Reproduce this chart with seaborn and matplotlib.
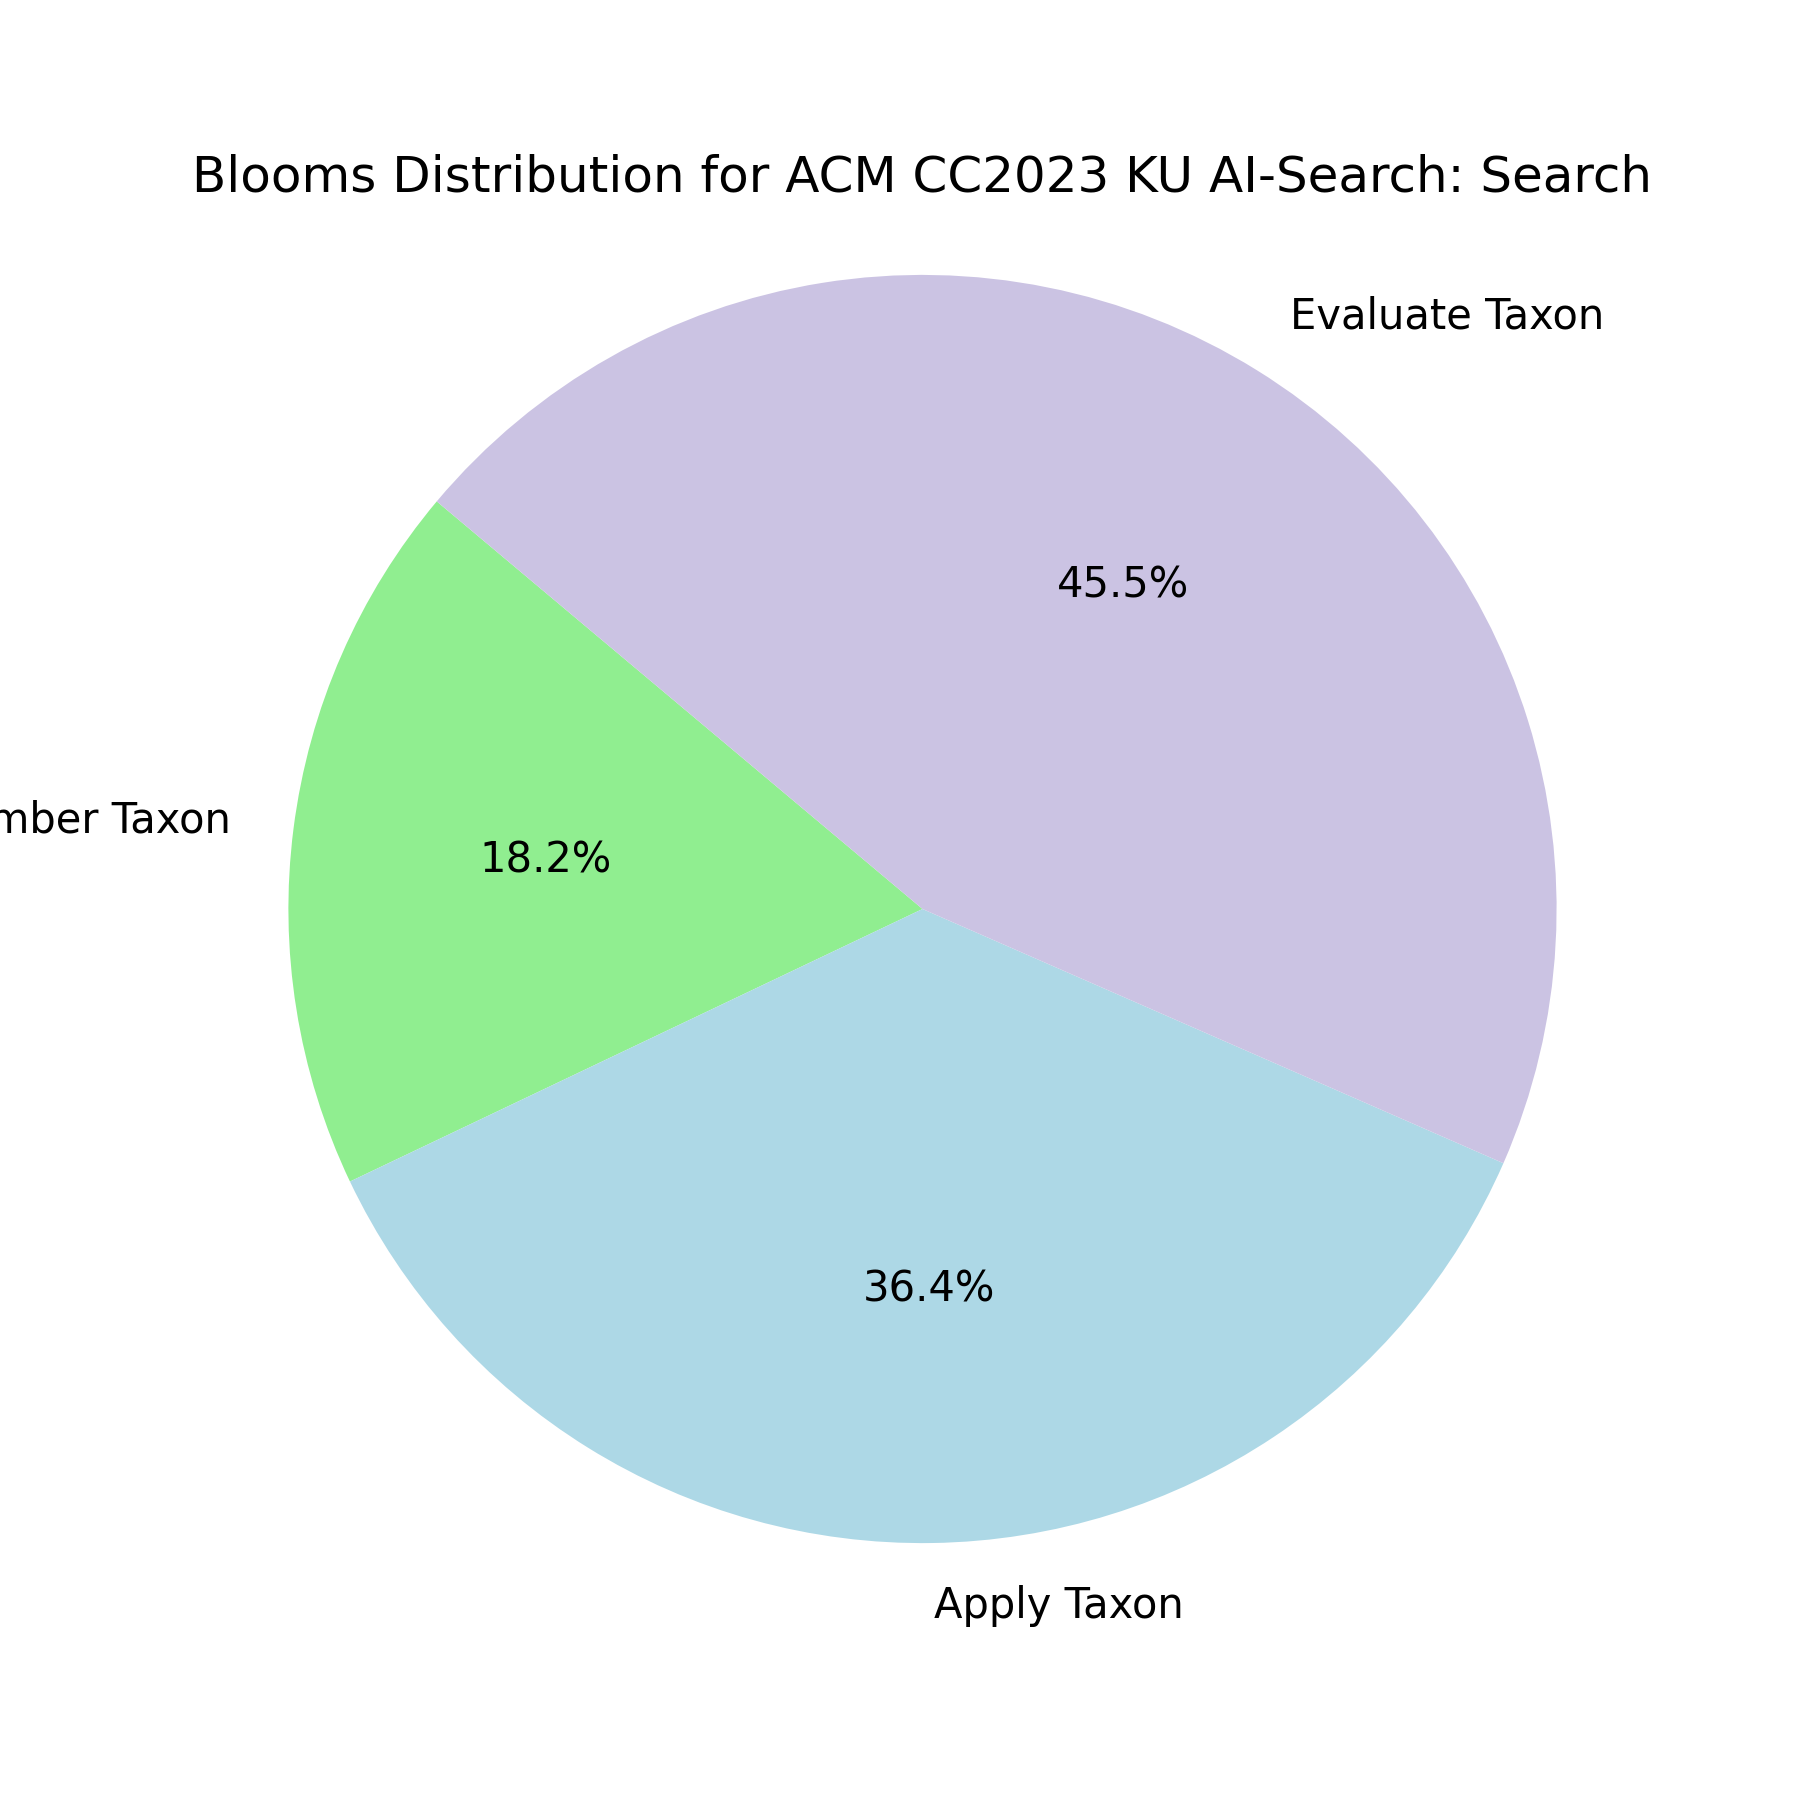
import matplotlib
matplotlib.use('Agg')
import matplotlib.pyplot as plt
import seaborn as sns

labels = ['Remember Taxon', 'Apply Taxon', 'Evaluate Taxon']
counts = [2, 4, 5]
colors = ['lightgreen', 'lightblue', '#CBC3E3']

# plain matplotlib look: no wedge edges, black text
palette = sns.color_palette(colors)

plt.figure(figsize=(6, 6))
plt.pie(counts, labels=labels, colors=palette, autopct='%1.1f%%', startangle=140)
plt.axis('equal')
plt.title('Blooms Distribution for ACM CC2023 KU AI-Search: Search')
plt.savefig('out.png', dpi=300)
